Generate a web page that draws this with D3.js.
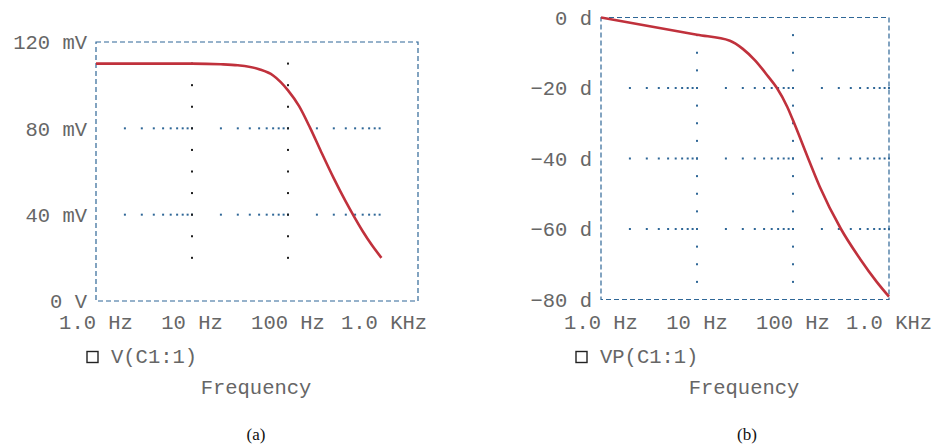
<!DOCTYPE html>
<html>
<head>
<meta charset="utf-8">
<script src="https://cdn.jsdelivr.net/npm/d3@7"></script>
<style>
  html, body { margin: 0; padding: 0; background: #ffffff; }
  svg { display: block; }
</style>
</head>
<body>
<svg id="chart" width="935" height="447"></svg>
<script>
// ---- data ----
const freqTicks = [1, 10, 100, 1000];
const freqLabels = ["1.0 Hz", "10 Hz", "100 Hz", "1.0 KHz"];

const magTicks = [0, 40, 80, 120];
const magLabels = ["0 V", "40 mV", "80 mV", "120 mV"];

const phaseTicks = [0, -20, -40, -60, -80];
const phaseLabels = ["0 d", "\u221220 d", "\u221240 d", "\u221260 d", "\u221280 d"];

// panel (a): magnitude V(C1:1) in mV
const magFreq   = [1, 10, 20, 30, 50, 70, 100, 130, 170, 220, 300, 400, 475, 600, 750, 940];
const magValues = [110, 110, 109.7, 109.2, 107.4, 104.5, 97.6, 90.4, 80.2, 69.4, 56.8, 46.0, 40.0, 32.3, 25.8, 20];

// panel (b): phase VP(C1:1) in degrees
const phaseFreq   = [1, 10, 22, 30, 40, 55, 68, 87, 105, 144, 190, 316, 500, 745, 1000];
const phaseValues = [0, -4.9, -6.6, -8.9, -12.1, -16.7, -20, -25.3, -30.6, -40, -48, -60, -68.5, -75, -79.2];

const legendA = "V(C1:1)";
const legendB = "VP(C1:1)";
const axisTitle = "Frequency";
const captions = ["(a)", "(b)"];

// ---- drawing ----
const svg = d3.select("#chart");
const MONO = "'Liberation Mono', 'Courier New', monospace";
const TXT = "#666666";
const BLUE = "#2f6797";
const RED = "#c0313c";
const minor = [2, 3, 4, 5, 6, 7, 8, 9];

function panel(cfg) {
  const g = svg.append("g");
  const x = d3.scaleLog().domain(cfg.xDomain).range([cfg.left, cfg.right]);
  const y = d3.scaleLinear().domain(cfg.yDomain).range([cfg.bottom, cfg.top]);

  // horizontal dotted grid lines (blue)
  cfg.hGrid.forEach(v => {
    const pts = [];
    [1, 10, 100].forEach(dec => {
      minor.forEach(m => pts.push(dec * m));
      if (dec < 100 || cfg.lastDecadeEnd) pts.push(dec * 10);
    });
    g.selectAll(null).data(pts.filter(f => x(f) <= cfg.right + 0.5)).enter().append("rect")
      .attr("x", f => x(f) - 1).attr("y", y(v) - 1)
      .attr("width", 2).attr("height", 2).attr("fill", BLUE);
  });

  // vertical dotted grid lines
  [10, 100].forEach(f => {
    g.selectAll(null).data(cfg.vGridVals).enter().append("rect")
      .attr("x", x(f) - 1).attr("y", v => y(v) - 1)
      .attr("width", 2).attr("height", 2).attr("fill", cfg.vColor);
  });

  // frame
  g.append("rect")
    .attr("x", cfg.left).attr("y", cfg.top)
    .attr("width", cfg.right - cfg.left).attr("height", cfg.bottom - cfg.top)
    .attr("fill", "none").attr("stroke", BLUE).attr("stroke-width", 1.2)
    .attr("stroke-dasharray", "5,3");

  // curve
  const data = cfg.fx.map((f, i) => ({ f, v: cfg.fy[i] }));
  g.append("path").datum(data)
    .attr("fill", "none").attr("stroke", RED).attr("stroke-width", 2.6)
    .attr("stroke-linejoin", "round")
    .attr("d", d3.line().x(d => x(d.f)).y(d => y(d.v)).curve(d3.curveMonotoneX));

  // y tick labels
  g.selectAll(null).data(cfg.yTicks).enter().append("text")
    .attr("x", cfg.left - 9).attr("y", v => y(v)).attr("dy", "0.36em")
    .attr("text-anchor", "end").attr("font-family", MONO).attr("font-size", 20.5)
    .attr("fill", TXT).text((v, i) => cfg.yLabels[i]);

  // x tick labels
  g.selectAll(null).data(freqTicks).enter().append("text")
    .attr("x", f => x(f)).attr("y", 329)
    .attr("text-anchor", "middle").attr("font-family", MONO).attr("font-size", 20.5)
    .attr("fill", TXT).text((f, i) => freqLabels[i]);

  // legend
  g.append("rect").attr("x", cfg.legX).attr("y", 351.5).attr("width", 11).attr("height", 11)
    .attr("fill", "none").attr("stroke", "#222").attr("stroke-width", 1.4);
  g.append("text").attr("x", cfg.legX + 24).attr("y", 363)
    .attr("font-family", MONO).attr("font-size", 20.5).attr("fill", TXT).text(cfg.legend);

  // axis title
  g.append("text").attr("x", cfg.titleX).attr("y", 394).attr("text-anchor", "middle")
    .attr("font-family", MONO).attr("font-size", 20.5).attr("fill", TXT).text(axisTitle);

  // caption
  g.append("text").attr("x", cfg.capX).attr("y", 440).attr("text-anchor", "middle")
    .attr("font-family", "'Liberation Serif', 'Times New Roman', serif").attr("font-size", 17)
    .attr("fill", "#111").text(cfg.caption);
}

panel({
  left: 96, right: 418, top: 42, bottom: 301,
  xDomain: [1, 2260], yDomain: [0, 120],
  hGrid: [40, 80], vGridVals: d3.range(20, 111, 10), vColor: "#1e1e1e",
  lastDecadeEnd: false,
  fx: magFreq, fy: magValues,
  yTicks: magTicks, yLabels: magLabels,
  legX: 87, legend: legendA, titleX: 256, capX: 256, caption: captions[0]
});

panel({
  left: 601, right: 889, top: 17.5, bottom: 299.5,
  xDomain: [1, 1000], yDomain: [-80, 0],
  hGrid: [-20, -40, -60], vGridVals: d3.range(-75, -4, 5), vColor: BLUE,
  lastDecadeEnd: true,
  fx: phaseFreq, fy: phaseValues,
  yTicks: phaseTicks, yLabels: phaseLabels,
  legX: 576, legend: legendB, titleX: 744, capX: 747, caption: captions[1]
});
</script>
</body>
</html>
